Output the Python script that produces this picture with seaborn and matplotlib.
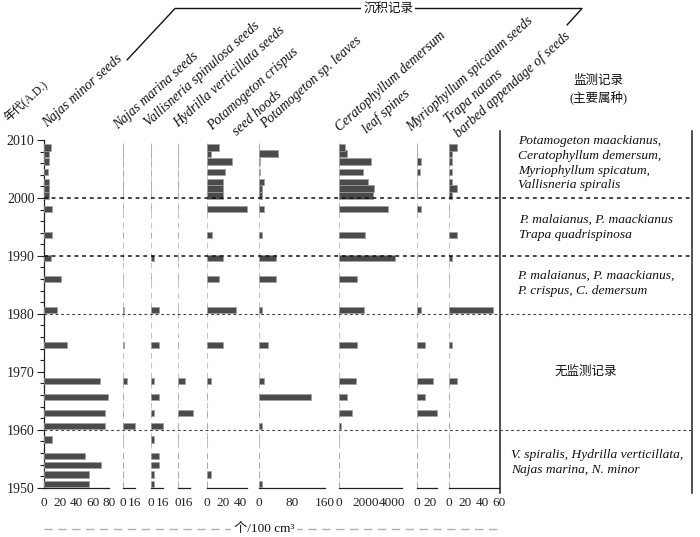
import numpy as np
import pandas as pd
import matplotlib
matplotlib.use("Agg")
import matplotlib.pyplot as plt
import seaborn as sns

# ---------------- data ----------------
years = [2008.7, 2007.7, 2006.3, 2004.5, 2002.8, 2001.6, 2000.4, 1998.1, 1993.6,
         1989.6, 1986.0, 1980.7, 1974.6, 1968.4, 1965.7, 1962.9, 1960.6, 1958.3,
         1955.5, 1953.9, 1952.3, 1950.6]

najas_minor   = [8, 6, 6, 4, 6, 6, 6, 10, 10, 8, 20, 16, 28, 68, 78, 75, 75, 10, 50, 70, 55, 55]
najas_marina  = [0, 0, 0, 0, 0, 0, 0, 0, 0, 0, 0, 2, 1, 5, 0, 0, 17, 0, 0, 0, 0, 0]
vallisneria   = [0, 0, 0, 0, 0, 0, 0, 0, 0, 5, 0, 11, 11, 5, 11, 5, 16, 5, 11, 11, 5, 5]
hydrilla      = [0, 0, 0, 0, 0, 0, 0, 0, 0, 0, 0, 0, 0, 14, 0, 28, 0, 0, 0, 0, 0, 0]
p_crispus     = [15, 5, 30, 22, 20, 20, 20, 49, 6, 20, 15, 35, 20, 5, 0, 0, 0, 0, 0, 0, 5, 0]
p_sp_leaves   = [0, 46, 2, 2, 11, 6, 6, 11, 7, 40, 40, 7, 20, 11, 125, 0, 6, 0, 0, 0, 0, 6]
ceratophyllum = [450, 625, 2380, 1830, 2200, 2630, 2530, 3660, 1950, 4190, 1330, 1880, 1330,
                 1250, 575, 950, 125, 0, 0, 0, 0, 0]
myriophyllum  = [0, 0, 6, 5, 0, 0, 0, 6.5, 0, 0, 0, 6.5, 12.5, 25, 12.5, 30, 0, 0, 0, 0, 0, 0]
trapa         = [10, 4, 4, 4, 4, 10, 4, 0, 10, 4, 0, 53, 4, 10, 0, 0, 0, 0, 0, 0, 0, 0]

monitor_breaks = [1960, 1980, 1990, 2000]
year_ticks = [1950, 1960, 1970, 1980, 1990, 2000, 2010]

# panel layout: (values, zero px, px per unit, axis max, ticks, labelled ticks)
panels = [
    (najas_minor,   44.3, 0.8125, 80,   [0, 10, 20, 30, 40, 50, 60, 70, 80], [0, 20, 40, 60, 80]),
    (najas_marina,  123.0, 0.72,  16,   [0, 8, 16], [0, 16]),
    (vallisneria,   150.5, 0.75,  16,   [0, 8, 16], [0, 16]),
    (hydrilla,      177.6, 0.55,  23,   [0, 8, 16, 23], [0, 16]),
    (p_crispus,     206.6, 0.833, 48,   [0, 10, 20, 30, 40, 48], [0, 20, 40]),
    (p_sp_leaves,   259.3, 0.41,  160,  [0, 40, 80, 120, 160], [0, 80, 160]),
    (ceratophyllum, 339.0, 0.0133, 4700, [0, 1000, 2000, 3000, 4000, 4700], [0, 2000, 4000]),
    (myriophyllum,  416.7, 0.667, 30,   [0, 10, 20, 30], [0, 20]),
    (trapa,         448.6, 0.833, 60,   [0, 10, 20, 30, 40, 50, 60], [0, 20, 40, 60]),
]

# ---------------- style ----------------
sns.set_style("white")
plt.rcParams["font.family"] = ["Liberation Serif", "Noto Sans CJK SC", "DejaVu Sans"]
plt.rcParams["axes.linewidth"] = 0.9

W, H = 700, 537
fig = plt.figure(figsize=(7, 5.37), dpi=100)

y_top_px, y_bot_px = 140.0, 487.7
def fy(px):
    return 1 - px / H

ax_bottom = fy(y_bot_px)
ax_height = (y_bot_px - y_top_px) / H

BAR = "#4b4b4b"
EDGE = "#a0a0a0"

for i, (vals, x0, ppu, amax, ticks, labt) in enumerate(panels):
    xend = panels[i + 1][1] - 3 if i + 1 < len(panels) else 499
    ax = fig.add_axes([x0 / W, ax_bottom, (xend - x0) / W, ax_height])
    ax.patch.set_visible(False)
    df = pd.DataFrame({"year": years, "value": vals})
    sns.barplot(data=df, x="value", y="year", orient="h", native_scale=True,
                width=1.1, color=BAR, saturation=1, edgecolor=EDGE,
                linewidth=0.5, errorbar=None, ax=ax, zorder=3)
    ax.set_xlim(0, (xend - x0) / ppu)
    ax.set_ylim(1950, 2010)
    ax.set_xlabel("")
    ax.set_ylabel("")
    for s in ["top", "right"]:
        ax.spines[s].set_visible(False)
    ax.spines["bottom"].set_bounds(0, amax)
    ax.spines["bottom"].set_color("#222222")
    ax.set_xticks(ticks)
    ax.set_xticklabels([str(t) if t in labt else "" for t in ticks], fontsize=9.5)
    ax.tick_params(axis="x", direction="in", length=3, width=0.8, pad=6.5, colors="#222222")
    if i == 0:
        ax.spines["left"].set_bounds(1950, 2010)
        ax.spines["left"].set_color("#222222")
        ax.set_yticks(year_ticks)
        ax.set_yticklabels([str(t) for t in year_ticks], fontsize=10)
        ax.set_yticks(np.arange(1950, 2011, 2), minor=True)
        ax.tick_params(axis="y", which="major", direction="out", length=5, width=0.8,
                       pad=2, colors="#222222", left=True)
        ax.tick_params(axis="y", which="minor", direction="out", length=3, width=0.8,
                       colors="#222222", left=True)
    else:
        ax.spines["left"].set_visible(False)
        ax.set_yticks([])
        ax.vlines(0, 1950, 2009.5, colors="#c4c4c4", linestyles=(0, (5, 4)),
                  linewidth=0.8, zorder=1)

# dashed horizontal break lines across panels and monitoring box
ax_bg = fig.add_axes([44.3 / W, ax_bottom, (692 - 44.3) / W, ax_height])
ax_bg.set_zorder(5)
ax_bg.patch.set_visible(False)
ax_bg.set_ylim(1950, 2010)
ax_bg.set_xlim(0, 1)
ax_bg.axis("off")
for b in monitor_breaks:
    bold = b in (1990, 2000)
    ax_bg.axhline(b, color="#111111" if bold else "#444444",
                  linewidth=1.1 if bold else 0.8, linestyle=(0, (2.5, 2.5)))

# monitoring box
yr_per_px = 60 / (y_bot_px - y_top_px)
ax_m = fig.add_axes([500 / W, fy(493), (692 - 500) / W, (493 - 131) / H])
ax_m.patch.set_visible(False)
ax_m.set_ylim(1950 - (493 - y_bot_px) * yr_per_px, 2010 + (y_top_px - 131) * yr_per_px)
ax_m.set_xticks([])
ax_m.set_yticks([])
for s in ["top", "bottom"]:
    ax_m.spines[s].set_visible(False)
for s in ["left", "right"]:
    ax_m.spines[s].set_color("#222222")
    ax_m.spines[s].set_linewidth(1.1)

# ---------------- overlay text (pixel coordinates) ----------------
ov = fig.add_axes([0, 0, 1, 1])
ov.set_xlim(0, W)
ov.set_ylim(H, 0)
ov.axis("off")
ov.set_zorder(10)
ov.patch.set_visible(False)

ANG = 42
titles = [
    ("Najas minor seeds", 47, 128),
    ("Najas marina seeds", 118, 130),
    ("Vallisneria spinulosa seeds", 149, 127),
    ("Hydrilla verticillata seeds", 178, 128),
    ("Potamogeton crispus", 212, 131),
    ("seed hoods", 237, 136),
    ("Potamogeton sp. leaves", 265, 129),
    ("Ceratophyllum demersum", 340, 132),
    ("leaf spines", 367, 134),
    ("Myriophyllum spicatum seeds", 411, 132),
    ("Trapa natans", 449, 124),
    ("barbed appendage of seeds", 459, 138),
]
for s, x, y in titles:
    ov.text(x, y, s, rotation=ANG, rotation_mode="anchor", ha="left", va="baseline",
            style="italic", fontsize=9.9, color="#111111")

ov.text(9, 122, "年代(A.D.)", rotation=ANG, rotation_mode="anchor", ha="left",
        va="baseline", fontsize=8.5, color="#111111")

# top bracket
ov.plot([127, 175, 582, 567], [60, 8.5, 8.5, 25], color="#111111", linewidth=1.0)
ov.text(388, 9, "沉积记录", ha="center", va="center", fontsize=9, color="#111111",
        bbox=dict(facecolor="white", edgecolor="none", pad=1.5))

# monitoring header
ov.text(598, 81, "监测记录", ha="center", va="center", fontsize=9, color="#111111")
ov.text(598, 97, "(主要属种)", ha="center", va="center", fontsize=9, color="#111111")

mon_text = [
    (["Potamogeton maackianus,", "Ceratophyllum demersum,", "Myriophyllum spicatum,",
      "Vallisneria spiralis"], 518, 141),
    (["P. malaianus, P. maackianus", "Trapa quadrispinosa"], 519, 220),
    (["P. malaianus, P. maackianus,", "P. crispus, C. demersum"], 517, 276),
    (["V. spiralis, Hydrilla verticillata,", "Najas marina, N. minor"], 511, 455),
]
for lines, x, y in mon_text:
    for k, line in enumerate(lines):
        ov.text(x, y + k * 14.8, line, ha="left", va="center", style="italic",
                fontsize=9.7, color="#111111")
ov.text(586, 372, "无监测记录", ha="center", va="center", fontsize=9, color="#111111")

# bottom unit line
ov.plot([44, 498], [529, 529], color="#b0b0b0", linewidth=1.0, linestyle=(0, (6, 4)))
ov.text(264, 529, "个/100 cm³", ha="center", va="center", fontsize=9.5, color="#111111",
        bbox=dict(facecolor="white", edgecolor="none", pad=2))

fig.savefig("out.png", dpi=100)
